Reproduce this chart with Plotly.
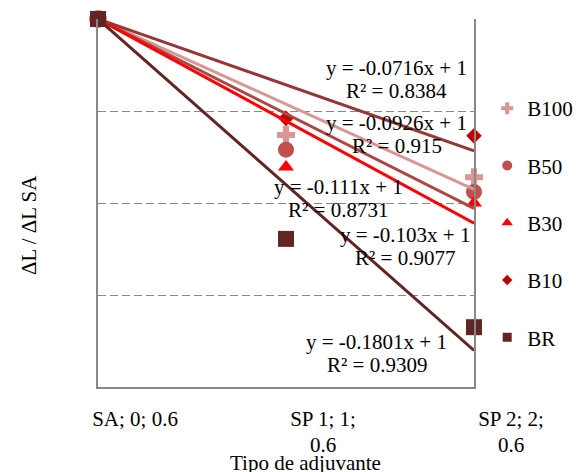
import plotly.graph_objects as go

tick_line1 = ["SA; 0; 0.6", "SP 1; 1;", "SP 2; 2;"]
tick_line2 = ["", "0.6", "0.6"]
x_pos = [0, 1, 2]
series_names = ["B100", "B50", "B30", "B10", "BR"]
b100 = [1.0, 0.874, 0.828]
b50 = [1.0, 0.858, 0.812]
b30 = [1.0, 0.839, 0.800]
b10 = [1.0, 0.892, 0.873]
br = [1.0, 0.761, 0.665]
slopes = [-0.0926, -0.103, -0.111, -0.0716, -0.1801]
r2 = ["0.915", "0.9077", "0.8731", "0.8384", "0.9309"]
slope_txt = ["-0.0926", "-0.103", "-0.111", "-0.0716", "-0.1801"]

values = [b100, b50, b30, b10, br]
symbols = ["cross", "circle", "triangle-up", "diamond", "square"]
marker_colors = ["#D99694", "#C0504D", "#FF0000", "#C00000", "#632523"]
marker_sizes = [15, 16, 14, 12, 16]
legend_sizes = [10, 10, 10, 8, 9]
line_colors = ["#D99694", "#AD4745", "#FF0000", "#953735", "#632523"]
# equation label centers (data coords)
eq_pos = [(1.59, 0.874), (1.633, 0.753), (1.277, 0.805), (1.59, 0.934), (1.484, 0.636)]

FONT = "Liberation Serif, Times New Roman, serif"
fig = go.Figure()

# data markers
for name, vals, sym, col, sz in zip(series_names, values, symbols, marker_colors, marker_sizes):
    fig.add_trace(go.Scatter(
        x=x_pos, y=vals, mode="markers", name=name, showlegend=False,
        marker=dict(symbol=sym, color=col, size=sz, line=dict(width=0)),
        cliponaxis=False))

# trendlines y = m x + 1
for m, col in zip(slopes, line_colors):
    fig.add_trace(go.Scatter(
        x=x_pos, y=[m * xv + 1 for xv in x_pos], mode="lines", showlegend=False,
        line=dict(color=col, width=3), hoverinfo="skip", cliponaxis=False))

# BR marker on top at the common starting point
fig.add_trace(go.Scatter(x=x_pos[:1], y=br[:1], mode="markers", showlegend=False,
                         marker=dict(symbol="square", color="#632523", size=16),
                         cliponaxis=False))

# helper trace for the second tick-label row axis
fig.add_trace(go.Scatter(x=[None], y=[None], xaxis="x2", showlegend=False,
                         hoverinfo="skip"))

# legend entries
for name, sym, col, sz in zip(series_names, symbols, marker_colors, legend_sizes):
    fig.add_trace(go.Scatter(
        x=[None], y=[None], mode="markers", name=name, legendgroup=name,
        marker=dict(symbol=sym, color=col, size=sz)))

annotations = []
for (ex, ey), st, rr in zip(eq_pos, slope_txt, r2):
    annotations.append(dict(x=ex, y=ey + 0.0125, xref="x", yref="y",
                            xanchor="center", yanchor="middle",
                            text=f"y = {st}x + 1", showarrow=False,
                            font=dict(family=FONT, size=21, color="black")))
    annotations.append(dict(x=ex, y=ey - 0.0125, xref="x", yref="y",
                            xanchor="center", yanchor="middle",
                            text=f"R² = {rr}", showarrow=False,
                            font=dict(family=FONT, size=21, color="black")))

annotations.append(dict(x=-0.1835, y=0.44, xref="paper", yref="paper",
                        xanchor="center", yanchor="middle",
                        text="ΔL / ΔL SA", textangle=-90, showarrow=False,
                        font=dict(family=FONT, size=21, color="black")))
annotations.append(dict(x=0.553, y=-0.2065, xref="paper", yref="paper",
                        xanchor="center", yanchor="middle",
                        text="Tipo de adjuvante", showarrow=False,
                        font=dict(family=FONT, size=21, color="black")))

fig.update_layout(
    width=580, height=472,
    margin=dict(l=98, r=106, t=19, b=85, autoexpand=False),
    plot_bgcolor="white", paper_bgcolor="white",
    font=dict(family=FONT, size=21, color="black"),
    annotations=annotations,
    showlegend=True,
    legend=dict(xref="container", yref="container", x=0.840, y=1 - 88 / 472,
                xanchor="left", yanchor="top", traceorder="grouped",
                tracegroupgap=27, maxheight=1.0, itemwidth=30,
                font=dict(family=FONT, size=21, color="black"),
                bgcolor="rgba(0,0,0,0)"),
    xaxis=dict(range=[0, 2], tickvals=x_pos, ticktext=tick_line1,
               showgrid=False, zeroline=False, showline=True,
               linecolor="#888888", linewidth=1.5, ticks="",
               ticklabelshift=37, ticklabelstandoff=12,
               tickfont=dict(family=FONT, size=21, color="black")),
    xaxis2=dict(range=[0, 2], tickvals=x_pos, ticktext=tick_line2,
                overlaying="x", anchor="y", side="bottom",
                showgrid=False, zeroline=False, showline=False, ticks="",
                ticklabelshift=37, ticklabelstandoff=43,
                tickfont=dict(family=FONT, size=21, color="black")),
    yaxis=dict(range=[0.6, 1.0], dtick=0.1, showticklabels=False,
               showgrid=True, gridcolor="#888888", gridwidth=1.3,
               griddash="8px,4px",
               zeroline=False, showline=True, mirror=True,
               linecolor="#888888", linewidth=1.5, ticks=""),
)

fig.write_html("out.html")
